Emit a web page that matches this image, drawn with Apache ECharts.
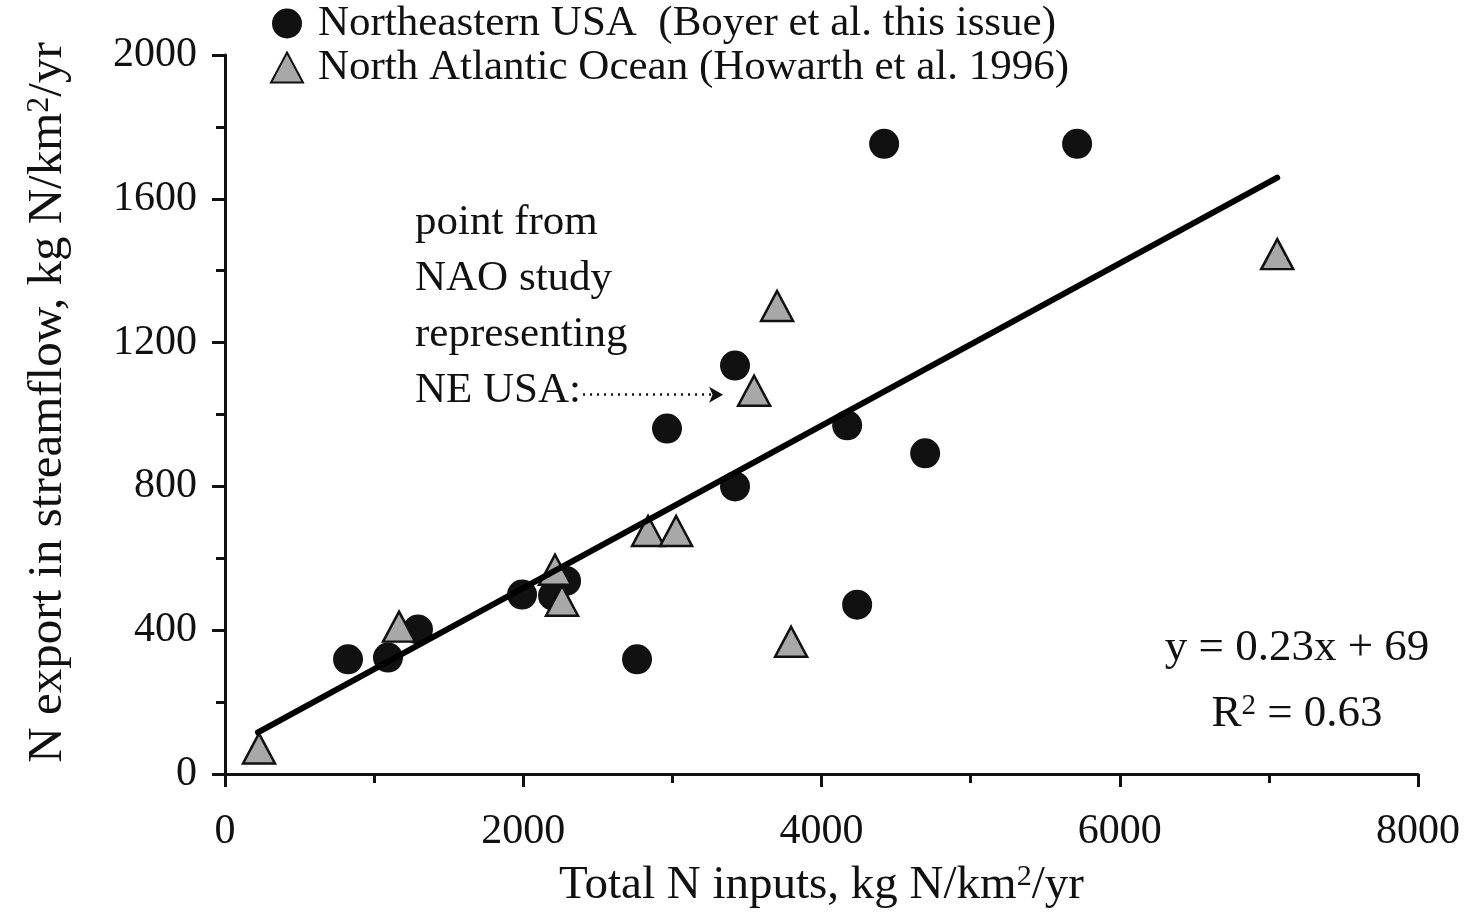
<!DOCTYPE html>
<html>
<head>
<meta charset="utf-8">
<script src="https://cdn.jsdelivr.net/npm/echarts@6/dist/echarts.min.js"></script>
<style>
html,body{margin:0;padding:0;background:#fff;}
#chart{width:1468px;height:914px;}
</style>
</head>
<body>
<div id="chart"></div>
<script>
// Northeastern USA (Boyer et al.) - circles
var neX = [825, 1093, 1294, 1992, 2200, 2287, 2763, 2964, 3420, 3420, 4172, 4239, 4420, 4695, 5714];
var neY = [319, 324, 402, 499, 496, 537, 319, 961, 1136, 800, 970, 471, 1753, 892, 1753];
// North Atlantic Ocean (Howarth et al. 1996) - triangles
var naX = [228, 1167, 2213, 2260, 2837, 3025, 3548, 3702, 3796, 7056];
var naY = [71, 410, 568, 482, 676, 676, 1066, 1302, 368, 1446];
// regression line end points
var fitX = [221, 7056];
var fitY = [116, 1659];
// annotation arrow (data units)
var arrowX = [2401, 3340];
var arrowY = [1055, 1055];
var xTicks = [0, 2000, 4000, 6000, 8000];
var yTicks = [0, 400, 800, 1200, 1600, 2000];
var seriesNames = ['Northeastern USA  (Boyer et al. this issue)', 'North Atlantic Ocean (Howarth et al. 1996)'];

function zip(a, b) { return a.map(function (v, i) { return [v, b[i]]; }); }

var FONT = 'Liberation Serif';
var chart = echarts.init(document.getElementById('chart'), null, {renderer: 'canvas'});
var axisCommon = {
  axisLine: {show: true, onZero: false, lineStyle: {color: '#111', width: 3}},
  axisTick: {show: true, inside: false, length: 13, lineStyle: {color: '#111', width: 3}},
  minorTick: {show: true, splitNumber: 2, length: 9, lineStyle: {color: '#111', width: 3}},
  splitLine: {show: false},
  axisLabel: {color: '#111', fontSize: 42, fontFamily: FONT, formatter: function (v) { return String(v); }}
};
var option = {
  animation: false,
  backgroundColor: '#fff',
  grid: {left: 225, right: 50, top: 55, bottom: 137, containLabel: false},
  legend: {
    orient: 'vertical', left: 270, top: 2, padding: 0,
    itemWidth: 32, itemHeight: 30, itemGap: 1,
    data: seriesNames,
    textStyle: {color: '#111', fontSize: 43, fontFamily: FONT, lineHeight: 30, padding: [0, 0, 0, 10]}
  },
  xAxis: Object.assign({}, axisCommon, {
    type: 'value', min: xTicks[0], max: xTicks[xTicks.length - 1], interval: 2000,
    axisLabel: Object.assign({}, axisCommon.axisLabel, {margin: 37}),
    name: 'Total N inputs, kg N/km{sup|2}/yr',
    nameLocation: 'middle', nameGap: 88,
    nameTextStyle: {color: '#111', fontSize: 47, fontFamily: FONT,
      rich: {sup: {fontSize: 30, fontFamily: FONT, color: '#111', verticalAlign: 'top'}}}
  }),
  yAxis: Object.assign({}, axisCommon, {
    type: 'value', min: yTicks[0], max: yTicks[yTicks.length - 1], interval: 400,
    axisLabel: Object.assign({}, axisCommon.axisLabel, {margin: 28}),
    name: 'N export in streamflow, kg N/km{sup|2}/yr',
    nameLocation: 'middle', nameGap: 152,
    nameTextStyle: {color: '#111', fontSize: 49, fontFamily: FONT, padding: [0, 0, 0, 24],
      rich: {sup: {fontSize: 32, fontFamily: FONT, color: '#111', verticalAlign: 'top'}}}
  }),
  graphic: [
    {type: 'text', left: 415, top: 195, z: 10,
      style: {text: 'point from\nNAO study\nrepresenting\nNE USA:', font: '43px "Liberation Serif"', fill: '#111', lineHeight: 56}},
    {type: 'text', x: 1297, y: 648, z: 10,
      style: {text: 'y = 0.23x + 69', font: '45px "Liberation Serif"', fill: '#111', align: 'center', verticalAlign: 'middle'}},
    {type: 'text', x: 1297, y: 714, z: 10,
      style: {text: 'R{sup|2} = 0.63', font: '45px "Liberation Serif"', fill: '#111', align: 'center', verticalAlign: 'middle',
        rich: {sup: {font: '29px "Liberation Serif"', fill: '#111', verticalAlign: 'top'}}}}
  ],
  series: [
    {
      name: seriesNames[0], type: 'scatter', symbol: 'circle', symbolSize: 30, z: 3,
      itemStyle: {color: '#111', opacity: 1},
      data: zip(neX, neY)
    },
    {
      name: seriesNames[1], type: 'scatter', symbol: 'triangle', symbolSize: [32, 30], z: 4,
      itemStyle: {color: '#a8a8a8', borderColor: '#111', borderWidth: 2.5, opacity: 1},
      data: zip(naX, naY)
    },
    {
      name: 'fit', type: 'line', showSymbol: false, symbol: 'none', z: 5,
      lineStyle: {color: '#000', width: 6, cap: 'round'},
      data: zip(fitX, fitY),
      markLine: {
        silent: true, symbol: ['none', 'arrow'], symbolSize: [12, 14],
        label: {show: false},
        lineStyle: {color: '#111', width: 2.5, type: [2, 5]},
        data: [[{coord: [arrowX[0], arrowY[0]]}, {coord: [arrowX[1], arrowY[1]]}]]
      }
    }
  ]
};
chart.setOption(option);
</script>
</body>
</html>
